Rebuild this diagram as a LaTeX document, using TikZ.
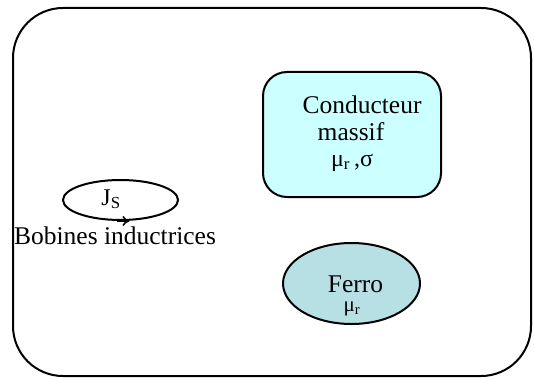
\documentclass[tikz,border=0pt]{standalone}
\usepackage{fontspec}
\setmainfont{Liberation Serif}
\usetikzlibrary{arrows.meta,positioning,shapes.geometric}
\definecolor{condcyan}{RGB}{204,255,255}
\definecolor{ferroteal}{RGB}{183,224,228}
\newcommand{\DomW}{534}
\newcommand{\DomH}{378}

\begin{document}
\begin{tikzpicture}[x=1pt,y=1pt,
  region/.style={draw=black, line width=2pt},
  label/.style={font=\fontsize{25.5}{30}\selectfont, inner sep=0pt, anchor=base},
  small/.style={font=\fontsize{24}{28}\selectfont, inner sep=0pt, anchor=base},
  coilarrow/.style={-{To[length=7pt,width=10pt]}, line width=1.6pt}
]
\useasboundingbox (0,0) rectangle (\DomW,\DomH);

% ----- Domain -----
\draw[region, rounded corners=50pt] (13,2) rectangle (531,370);

% ----- Massive conductor -----
\node[region, fill=condcyan, rounded corners=24pt, minimum width=178pt,
  minimum height=125pt] (cond) at (352,243.5) {};
\node[label] (condname) at (362,265) {Conducteur};
\node[label] (condmass) at (351,238) {massif};
\node[small] (condprop) at (352,212) {μ\textsubscript{r}\,,σ};

% ----- Ferromagnetic part -----
\node[region, ellipse, fill=ferroteal, inner sep=0pt, minimum width=137pt,
  minimum height=81pt] (ferro) at (351.5,94.5) {};
\node[label] (ferroname) at (355.5,86) {Ferro};
\node[small, font=\fontsize{21}{25}\selectfont] (ferroprop) at (352,67) {μ\textsubscript{r}};

% ----- Inductor coils -----
\node[region, ellipse, inner sep=0pt, minimum width=115pt,
  minimum height=40pt] (coil) at (120.5,178) {};
\node[label, font=\fontsize{24}{28}\selectfont] (coilcur) at (111,173) {J\textsubscript{S}};
\draw[coilarrow] (coil.south) ++(-4,0) -- ++(13,0);
\node[label] (coilname) at (115,134) {Bobines inductrices};

\end{tikzpicture}
\end{document}
